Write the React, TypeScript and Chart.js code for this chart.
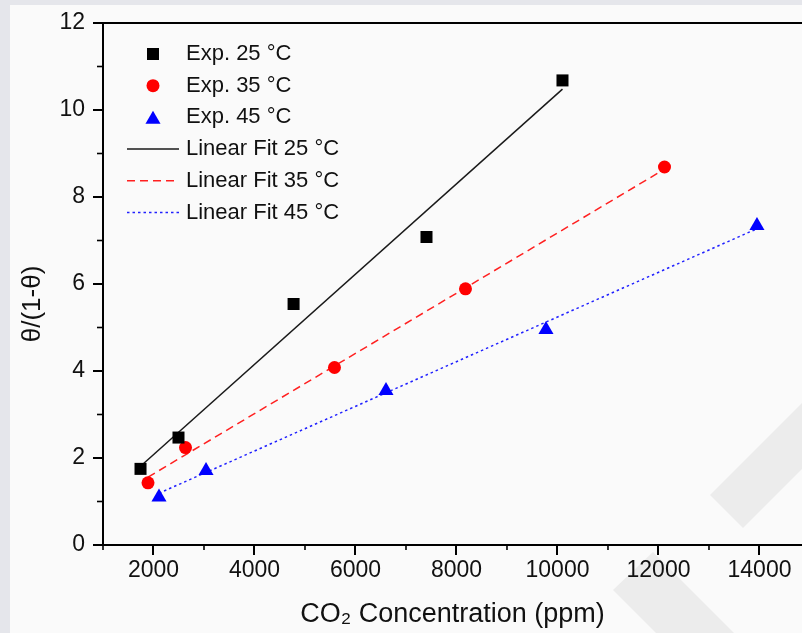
import React, { useEffect, useRef } from 'react';
import { Chart, registerables } from 'chart.js';

Chart.register(...registerables);

// ---- data ----
const exp25X = [1743, 2495, 4774, 7406, 10099];
const exp25Y = [1.75, 2.47, 5.54, 7.08, 10.68];
const exp35X = [1891, 2634, 5584, 8178, 12119];
const exp35Y = [1.43, 2.24, 4.08, 5.89, 8.69];
const exp45X = [2109, 3040, 6604, 9772, 13950];
const exp45Y = [1.1, 1.71, 3.55, 4.95, 7.34];

const fit25X = [1743, 10099];
const fit25Y = [1.81, 10.48];
const fit35X = [1891, 12119];
const fit35Y = [1.56, 8.64];
const fit45X = [2109, 13950];
const fit45Y = [1.19, 7.27];

const xMajorTicks = [2000, 4000, 6000, 8000, 10000, 12000, 14000];
const xMinorTicks = [1000, 3000, 5000, 7000, 9000, 11000, 13000];
const yMajorTicks = [0, 2, 4, 6, 8, 10, 12];
const yMinorTicks = [1, 3, 5, 7, 9, 11];

const seriesLabels = [
  'Exp. 25 °C',
  'Exp. 35 °C',
  'Exp. 45 °C',
  'Linear Fit 25 °C',
  'Linear Fit 35 °C',
  'Linear Fit 45 °C',
];

const xTitle = 'CO₂ Concentration (ppm)';
const yTitle = 'θ/(1-θ)';

const FONT = '"Liberation Sans", Arial, Helvetica, sans-serif';

const pts = (xs: number[], ys: number[]) => xs.map((x, i) => ({ x, y: ys[i] }));

function drawMarker(ctx: CanvasRenderingContext2D, style: string, x: number, y: number, r: number, color: string) {
  ctx.save();
  ctx.fillStyle = color;
  ctx.beginPath();
  if (style === 'rect') {
    const s = Math.SQRT1_2 * r;
    ctx.rect(x - s, y - s, 2 * s, 2 * s);
  } else if (style === 'circle') {
    ctx.arc(x, y, r, 0, Math.PI * 2);
  } else if (style === 'triangle') {
    let a = 0;
    ctx.moveTo(x + Math.sin(a) * r, y - Math.cos(a) * r);
    a += (2 * Math.PI) / 3;
    ctx.lineTo(x + Math.sin(a) * r, y - Math.cos(a) * r);
    a += (2 * Math.PI) / 3;
    ctx.lineTo(x + Math.sin(a) * r, y - Math.cos(a) * r);
    ctx.closePath();
  }
  ctx.fill();
  ctx.restore();
}

const decorPlugin = {
  id: 'decor',
  beforeDraw(chart: any) {
    const { ctx, width, height } = chart;
    ctx.save();
    ctx.fillStyle = '#e5e6eb';
    ctx.fillRect(0, 0, width, height);
    ctx.fillStyle = '#fafafa';
    ctx.fillRect(10, 5, width - 10, height - 5);
    // faint watermark bands of the source image
    ctx.fillStyle = '#ececec';
    ctx.beginPath();
    ctx.moveTo(710, 495);
    ctx.lineTo(743, 528);
    ctx.lineTo(802, 469);
    ctx.lineTo(802, 403);
    ctx.closePath();
    ctx.fill();
    ctx.beginPath();
    ctx.moveTo(613, 590);
    ctx.lineTo(653, 552);
    ctx.lineTo(734, 633);
    ctx.lineTo(656, 633);
    ctx.closePath();
    ctx.fill();
    ctx.restore();
  },
  afterDraw(chart: any) {
    const { ctx, chartArea, scales } = chart;
    const xs = scales.x;
    const ys = scales.y;
    ctx.save();
    ctx.strokeStyle = '#000';
    ctx.lineWidth = 2;
    // top frame
    ctx.beginPath();
    ctx.moveTo(chartArea.left - 1, chartArea.top);
    ctx.lineTo(chartArea.right, chartArea.top);
    ctx.stroke();
    // minor ticks
    ctx.lineWidth = 1.6;
    xMinorTicks.forEach((v) => {
      const px = xs.getPixelForValue(v);
      ctx.beginPath();
      ctx.moveTo(px, chartArea.bottom);
      ctx.lineTo(px, chartArea.bottom + 5);
      ctx.stroke();
    });
    yMinorTicks.forEach((v) => {
      const py = ys.getPixelForValue(v);
      ctx.beginPath();
      ctx.moveTo(chartArea.left - 6, py);
      ctx.lineTo(chartArea.left, py);
      ctx.stroke();
    });
    // y axis title
    ctx.fillStyle = '#111';
    ctx.font = `26px ${FONT}`;
    ctx.textAlign = 'center';
    ctx.textBaseline = 'middle';
    ctx.translate(33, 304);
    ctx.rotate(-Math.PI / 2);
    ctx.fillText(yTitle, 0, 0);
    ctx.restore();

    // legend inside the plot
    ctx.save();
    const x0 = chartArea.left;
    const y0 = chartArea.top;
    ctx.font = `22px ${FONT}`;
    ctx.textAlign = 'left';
    ctx.textBaseline = 'middle';
    chart.data.datasets.forEach((ds: any, i: number) => {
      const cy = y0 + 31 + i * 31.7;
      if (ds.showLine) {
        ctx.save();
        ctx.strokeStyle = ds.borderColor;
        ctx.lineWidth = ds.borderWidth;
        ctx.setLineDash(ds.borderDash || []);
        ctx.beginPath();
        ctx.moveTo(x0 + 24, cy);
        ctx.lineTo(x0 + 76, cy);
        ctx.stroke();
        ctx.restore();
      } else {
        drawMarker(ctx, ds.pointStyle, x0 + 50, ds.pointStyle === 'triangle' ? cy + 2 : cy, ds.pointRadius, ds.backgroundColor);
      }
      ctx.fillStyle = '#111';
      ctx.fillText(ds.label, x0 + 83, cy);
    });
    ctx.restore();
  },
};

export default function App() {
  const ref = useRef<HTMLCanvasElement | null>(null);

  useEffect(() => {
    if (!ref.current) return;
    const chart = new Chart(ref.current, {
      type: 'scatter',
      data: {
        datasets: [
          { label: seriesLabels[0], data: pts(exp25X, exp25Y), showLine: false, pointStyle: 'rect', pointRadius: 8.5, backgroundColor: '#000000', borderWidth: 0 },
          { label: seriesLabels[1], data: pts(exp35X, exp35Y), showLine: false, pointStyle: 'circle', pointRadius: 6.5, backgroundColor: '#ff0000', borderWidth: 0 },
          { label: seriesLabels[2], data: pts(exp45X, exp45Y), showLine: false, pointStyle: 'triangle', pointRadius: 8.7, backgroundColor: '#0000ff', borderWidth: 0 },
          { label: seriesLabels[3], data: pts(fit25X, fit25Y), showLine: true, pointRadius: 0, borderColor: '#1a1a1a', borderWidth: 1.5, borderDash: [], backgroundColor: '#1a1a1a' },
          { label: seriesLabels[4], data: pts(fit35X, fit35Y), showLine: true, pointRadius: 0, borderColor: '#ff2020', borderWidth: 1.5, borderDash: [8, 5], backgroundColor: '#ff2020' },
          { label: seriesLabels[5], data: pts(fit45X, fit45Y), showLine: true, pointRadius: 0, borderColor: '#2020ff', borderWidth: 1.5, borderDash: [2.5, 3], backgroundColor: '#2020ff' },
        ] as any,
      },
      options: {
        animation: false,
        responsive: false,
        devicePixelRatio: 1,
        layout: { padding: { top: 23, left: 0, right: 0, bottom: 0 }, autoPadding: false },
        plugins: {
          legend: { display: false },
          tooltip: { enabled: false },
          title: { display: false },
        },
        scales: {
          x: {
            type: 'linear',
            min: 1000,
            max: 14842,
            afterBuildTicks: (s: any) => {
              s.ticks = xMajorTicks.map((v) => ({ value: v }));
            },
            afterFit: (s: any) => {
              s.height = 88;
              s.paddingLeft = 0;
              s.paddingRight = 0;
            },
            ticks: {
              color: '#111',
              font: { family: FONT, size: 23 },
              padding: 2,
              maxRotation: 0,
              autoSkip: false,
              callback: (v: any) => String(v),
            },
            grid: { drawOnChartArea: false, drawTicks: true, tickLength: 10, color: '#000', lineWidth: 2 },
            border: { display: true, color: '#000', width: 2 },
            title: {
              display: true,
              text: xTitle,
              color: '#111',
              font: { family: FONT, size: 27 },
              padding: { top: 0, bottom: 2 },
            },
          },
          y: {
            type: 'linear',
            min: 0,
            max: 12,
            afterBuildTicks: (s: any) => {
              s.ticks = yMajorTicks.map((v) => ({ value: v }));
            },
            afterFit: (s: any) => {
              s.width = 103;
              s.paddingTop = 0;
              s.paddingBottom = 0;
            },
            ticks: {
              color: '#111',
              font: { family: FONT, size: 23 },
              padding: 8,
              autoSkip: false,
              callback: (v: any) => String(v),
            },
            grid: { drawOnChartArea: false, drawTicks: true, tickLength: 10, color: '#000', lineWidth: 2 },
            border: { display: true, color: '#000', width: 2 },
            title: { display: false },
          },
        },
      } as any,
      plugins: [decorPlugin],
    });
    return () => chart.destroy();
  }, []);

  return (
    <div style={{ position: 'fixed', left: 0, top: 0, width: 802, height: 633, overflow: 'hidden' }}>
      <canvas ref={ref} width={802} height={633} style={{ display: 'block', width: 802, height: 633 }} />
    </div>
  );
}
